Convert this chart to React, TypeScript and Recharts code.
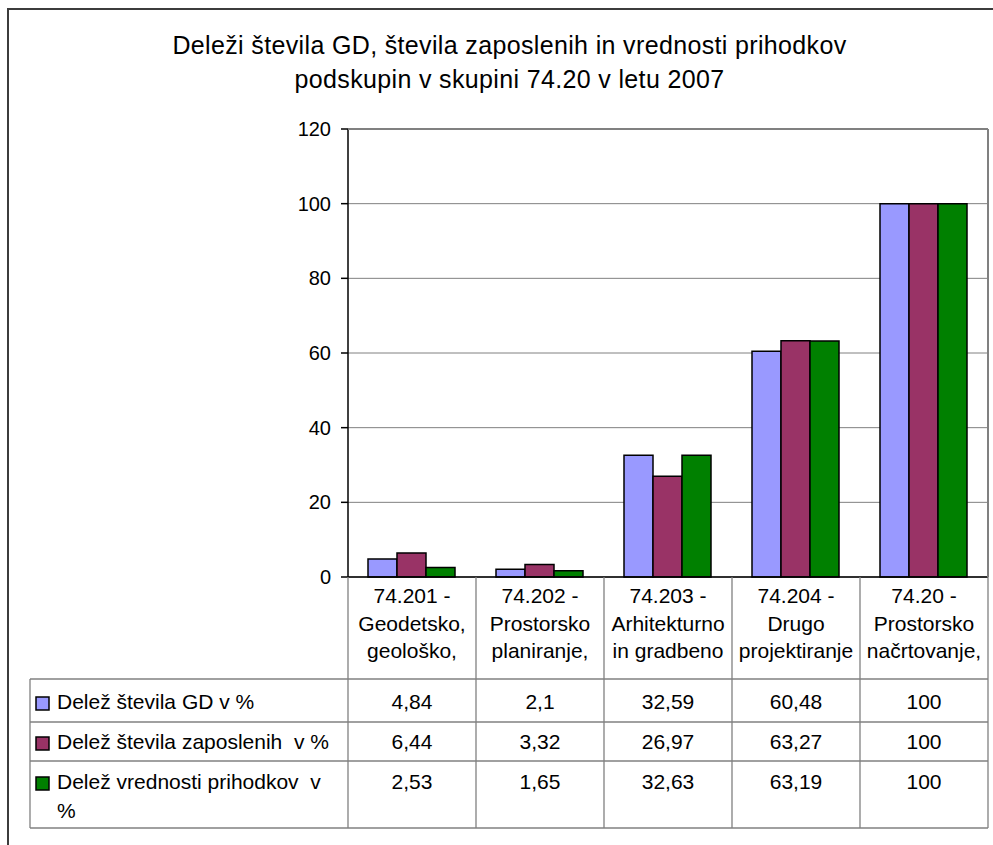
import { BarChart, Bar, XAxis, YAxis, CartesianGrid } from "recharts";

const categories = [
  "74.201 - Geodetsko, geološko,",
  "74.202 - Prostorsko planiranje,",
  "74.203 - Arhitekturno in gradbeno",
  "74.204 - Drugo projektiranje",
  "74.20 - Prostorsko načrtovanje,",
];
const categoryLines = [
  ["74.201 -", "Geodetsko,", "geološko,"],
  ["74.202 -", "Prostorsko", "planiranje,"],
  ["74.203 -", "Arhitekturno", "in gradbeno"],
  ["74.204 -", "Drugo", "projektiranje"],
  ["74.20 -", "Prostorsko", "načrtovanje,"],
];
const gdShare = [4.84, 2.1, 32.59, 60.48, 100];
const employeeShare = [6.44, 3.32, 26.97, 63.27, 100];
const revenueShare = [2.53, 1.65, 32.63, 63.19, 100];
const yTicks = [0, 20, 40, 60, 80, 100, 120];

const seriesNames = [
  ["Delež števila GD v %"],
  ["Delež števila zaposlenih  v %"],
  ["Delež vrednosti prihodkov  v", "%"],
];
const seriesColors = ["#9999FF", "#993366", "#008000"];
const seriesValues = [gdShare, employeeShare, revenueShare];

const data = categories.map((name, i) => ({
  name,
  gd: gdShare[i],
  emp: employeeShare[i],
  rev: revenueShare[i],
}));

const W = 993;
const H = 845;
const PLOT_LEFT = 348;
const PLOT_RIGHT = 988;
const PLOT_TOP = 129;
const PLOT_BOTTOM = 577;
const COL_W = (PLOT_RIGHT - PLOT_LEFT) / categories.length;
const TABLE_LEFT = 30;
const ROW_LINES = [679, 722, 761, 828];
const ROW_BASE = [709, 749, 789];
const FONT = '"Liberation Sans", Arial, sans-serif';
const GRID = "#808080";

const fmt = (v: number) => String(v).replace(".", ",");

// each x-axis tick draws its column of the data table
const TableColumn = (props: any) => {
  const { x } = props;
  const index = props.index ?? props.payload?.index ?? 0;
  const left = x - COL_W / 2;
  const right = x + COL_W / 2;
  return (
    <g>
      {index === 0 && (
        <line x1={left} y1={PLOT_BOTTOM} x2={left} y2={ROW_LINES[3]} stroke={GRID} strokeWidth={1.3} />
      )}
      <line x1={right} y1={PLOT_BOTTOM} x2={right} y2={ROW_LINES[3]} stroke={GRID} strokeWidth={1.3} />
      <text textAnchor="middle" fontSize={21} fill="#000" fontFamily={FONT}>
        {categoryLines[index].map((l, i) => (
          <tspan key={i} x={x} y={603 + i * 27.5}>
            {l}
          </tspan>
        ))}
      </text>
      {seriesValues.map((vals, r) => (
        <text key={r} x={x} y={ROW_BASE[r]} textAnchor="middle" fontSize={21} fill="#000" fontFamily={FONT}>
          {fmt(vals[index])}
        </text>
      ))}
    </g>
  );
};

const App = () => {
  return (
    <div style={{ position: "absolute", left: 0, top: 0, width: W, height: H, background: "#fff" }}>
      <BarChart
        width={W}
        height={H}
        data={data}
        margin={{ top: PLOT_TOP, right: W - PLOT_RIGHT, bottom: 17, left: 288 }}
        barCategoryGap={20}
        barGap={0}
      >
        <CartesianGrid vertical={false} stroke={GRID} strokeWidth={1} />
        <YAxis
          width={60}
          domain={[0, 120]}
          ticks={yTicks}
          tickSize={7}
          tickMargin={10}
          axisLine={{ stroke: "#000", strokeWidth: 1.5 }}
          tickLine={{ stroke: "#000", strokeWidth: 1.5 }}
          tick={{ fontSize: 20, fill: "#000", fontFamily: FONT }}
        />
        <XAxis
          dataKey="name"
          height={ROW_LINES[3] - PLOT_BOTTOM}
          interval={0}
          tickLine={false}
          tickSize={0}
          axisLine={{ stroke: "#000", strokeWidth: 1.5 }}
          tick={(p: any) => <TableColumn {...p} />}
        />
        <Bar dataKey="gd" fill={seriesColors[0]} stroke="#000" strokeWidth={1.5} isAnimationActive={false} />
        <Bar dataKey="emp" fill={seriesColors[1]} stroke="#000" strokeWidth={1.5} isAnimationActive={false} />
        <Bar dataKey="rev" fill={seriesColors[2]} stroke="#000" strokeWidth={1.5} isAnimationActive={false} />
      </BarChart>
      <svg
        width={W}
        height={H}
        style={{ position: "absolute", left: 0, top: 0, pointerEvents: "none" }}
        fontFamily={FONT}
      >
        <path d={`M8 ${H} V9 H${W}`} fill="none" stroke="#3c3c3c" strokeWidth={2} />
        <text textAnchor="middle" fontSize={25} fill="#000" letterSpacing={0.35}>
          <tspan x={509.5} y={54}>Deleži števila GD, števila zaposlenih in vrednosti prihodkov</tspan>
          <tspan x={509.5} y={88}>podskupin v skupini 74.20 v letu 2007</tspan>
        </text>
        <line x1={PLOT_LEFT} y1={PLOT_TOP} x2={PLOT_RIGHT} y2={PLOT_TOP} stroke={GRID} strokeWidth={2} />
        <line x1={PLOT_RIGHT} y1={PLOT_TOP} x2={PLOT_RIGHT} y2={PLOT_BOTTOM} stroke={GRID} strokeWidth={2} />
        {ROW_LINES.map((y) => (
          <line key={y} x1={TABLE_LEFT} y1={y} x2={PLOT_RIGHT} y2={y} stroke={GRID} strokeWidth={1.3} />
        ))}
        <line x1={TABLE_LEFT} y1={ROW_LINES[0]} x2={TABLE_LEFT} y2={ROW_LINES[3]} stroke={GRID} strokeWidth={1.3} />
        {seriesNames.map((lines, r) => (
          <g key={r}>
            <rect x={36} y={ROW_BASE[r] - 12} width={13} height={13} fill={seriesColors[r]} stroke="#000" strokeWidth={1.5} />
            <text fontSize={21} fill="#000" style={{ whiteSpace: "pre" }}>
              {lines.map((l, i) => (
                <tspan key={i} x={57} y={ROW_BASE[r] + i * 29}>
                  {l}
                </tspan>
              ))}
            </text>
          </g>
        ))}
      </svg>
    </div>
  );
};

export default App;
